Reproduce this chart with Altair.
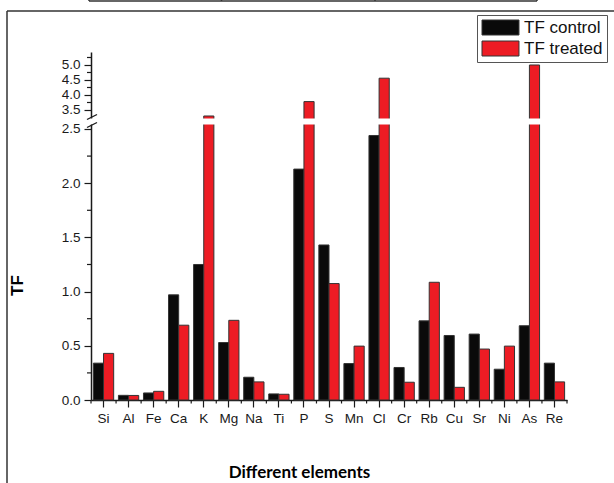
import altair as alt
import pandas as pd

# ---------------- data ----------------
elements = ["Si", "Al", "Fe", "Ca", "K", "Mg", "Na", "Ti", "P", "S",
            "Mn", "Cl", "Cr", "Rb", "Cu", "Sr", "Ni", "As", "Re"]
tf_control = [0.34, 0.043, 0.065, 0.97, 1.25, 0.53, 0.21, 0.056, 2.13, 1.43,
              0.336, 2.44, 0.30, 0.73, 0.595, 0.608, 0.284, 0.685, 0.34]
tf_treated = [0.43, 0.042, 0.08, 0.69, 3.3, 0.735, 0.167, 0.053, 3.78, 1.074,
              0.497, 4.56, 0.164, 1.086, 0.117, 0.47, 0.497, 5.0, 0.167]
series_names = ["TF control", "TF treated"]
series_colors = ["#0a0a0a", "#ed1c24"]
y_major = [0, 0.5, 1.0, 1.5, 2.0, 2.5, 3.5, 4.0, 4.5, 5.0]
y_minor = [0.25, 0.75, 1.25, 1.75, 2.25, 3.75, 4.25, 4.75, 5.25]
break_domain = [0, 2.546, 3.2, 5.433]   # broken axis: 0-2.5 | 3.5-5.0

rows = []
for e, c, t in zip(elements, tf_control, tf_treated):
    rows.append({"element": e, "series": series_names[0], "value": c})
    rows.append({"element": e, "series": series_names[1], "value": t})
df = pd.DataFrame(rows)
df_elem = pd.DataFrame({"element": elements})
df_minor = pd.DataFrame({"value": y_minor})

# ---------------- layout ----------------
W, H = 476, 348
AXC = "#1a1a1a"
x_scale = alt.Scale(paddingInner=0, paddingOuter=0)
y_scale = alt.Scale(domain=break_domain, range=[H, 72, 67, 0], zero=False, nice=False)

x_axis = alt.Axis(
    title="Different elements", labelAngle=0, labelFont="Liberation Sans",
    labelFontSize=13.5, labelColor=AXC, labelPadding=4, tickSize=7,
    tickColor=AXC, domainColor=AXC, domainWidth=1.5, tickWidth=1.2,
    titleFont="Lato", titleFontWeight="bold", titleFontSize=17,
    titleColor="#000", titleX=208, titleY=77, titleBaseline="alphabetic",
    titleAlign="center",
)
y_axis = alt.Axis(
    title="TF", values=y_major, format=".1f", labelFont="Liberation Sans",
    labelFontSize=13.5, labelColor=AXC, labelPadding=4, tickSize=7,
    tickColor=AXC, domainColor=AXC, domainWidth=1.5, tickWidth=1.2,
    grid=False, titleFont="Liberation Sans", titleFontWeight="bold",
    titleFontSize=17, titleColor="#000", titleX=-73.5, titleY=233,
    titleAngle=270, titleAlign="center", titleBaseline="middle",
)

x_enc = alt.X("element:N", sort=elements, scale=x_scale, axis=x_axis)
y_enc = alt.Y("value:Q", scale=y_scale, axis=y_axis)

bars = alt.Chart(df).mark_bar(stroke="#333", strokeWidth=1).encode(
    x=x_enc,
    y=y_enc,
    xOffset=alt.XOffset("series:N", sort=series_names,
                        scale=alt.Scale(paddingOuter=0.234, paddingInner=0)),
    color=alt.Color(
        "series:N", sort=series_names,
        scale=alt.Scale(domain=series_names, range=series_colors),
        legend=alt.Legend(
            title=None, orient="none", legendX=386, legendY=-37,
            symbolType="M-1,-1L3.93,-1L3.93,1L-1,1Z",
            symbolSize=225, symbolStrokeColor="#333", symbolStrokeWidth=1,
            symbolOpacity=1, labelFont="Liberation Sans", labelFontSize=17,
            labelColor="#111", labelOffset=26, strokeColor="#555",
            fillColor="white", padding=4, rowPadding=2,
        ),
    ),
)

# white gap for the axis break
gap = alt.Chart(pd.DataFrame({"a": [0]})).mark_rect(color="white").encode(
    x=alt.value(-2), x2=alt.value(W), y=alt.value(66.5), y2=alt.value(72.5)
)

brk = pd.DataFrame({"x0": [-4, -4], "y0": [67.5, 75.5], "x1": [6, 6], "y1": [62.5, 70.5]})
break_marks = alt.Chart(brk).mark_rule(color=AXC, strokeWidth=1.3).encode(
    x=alt.X("x0:Q", scale=None), y=alt.Y("y0:Q", scale=None),
    x2="x1:Q", y2="y1:Q",
)

minor_ticks = alt.Chart(df_minor).mark_rule(color=AXC, strokeWidth=1.2).encode(
    y=y_enc, x=alt.value(-4), x2=alt.value(0)
)

bound_ticks = alt.Chart(df_elem).mark_rule(color=AXC, strokeWidth=1.2).encode(
    x=alt.X("element:N", sort=elements, scale=x_scale, axis=x_axis, bandPosition=0),
    y=alt.value(H), y2=alt.value(H + 3.5),
)
end_tick = alt.Chart(pd.DataFrame({"a": [0]})).mark_rule(color=AXC, strokeWidth=1.2).encode(
    x=alt.value(W), y=alt.value(H), y2=alt.value(H + 3.5)
)

# page frame and fragment of the table above
frame_df = pd.DataFrame({
    "x0": [-84, -84, -2, -2, 130.5, 284, 446],
    "x1": [-84, 523, 446, -2, 130.5, 284, 446],
    "y0": [-41, -41, -51, -52, -52, -52, -52],
    "y1": [431, -41, -51, -51, -51, -51, -51],
})
frame = alt.Chart(frame_df).mark_rule(color="#333", strokeWidth=1.5).encode(
    x=alt.X("x0:Q", scale=None), y=alt.Y("y0:Q", scale=None),
    x2="x1:Q", y2="y1:Q",
)

chart = alt.layer(
    bars, gap, break_marks, minor_ticks, bound_ticks, end_tick, frame
).properties(
    width=W, height=H,
    padding={"left": 91, "top": 52, "right": 47, "bottom": 83},
    autosize=alt.AutoSizeParams(type="none"),
    background="white",
).configure_view(stroke=None)

chart.save("out.html", embed_options={"renderer": "svg", "actions": False})
